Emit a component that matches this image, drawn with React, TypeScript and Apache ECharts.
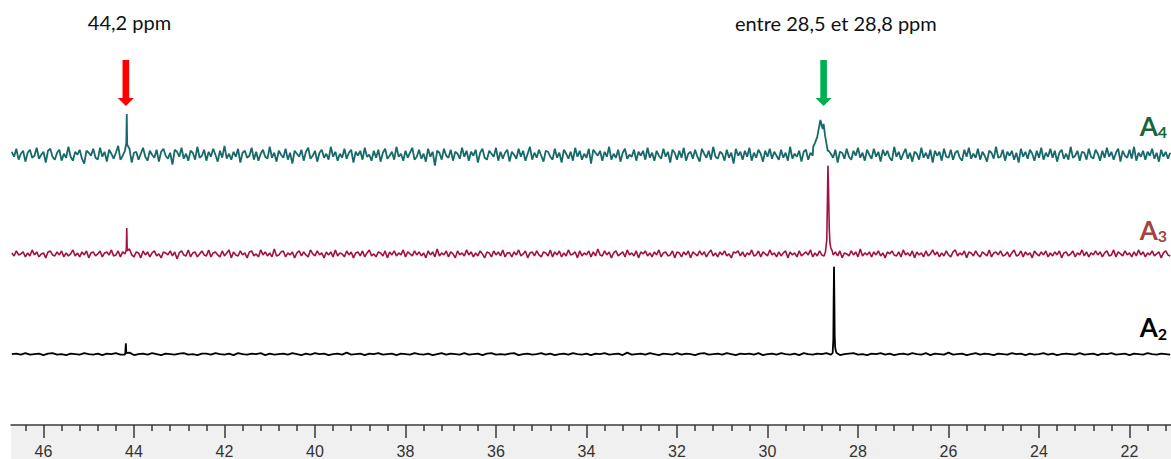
import React, { useEffect, useRef } from 'react';
import * as echarts from 'echarts';

// ---- axis ----
const AXIS_MIN = 21.083;
const AXIS_MAX = 46.718;
const MAJOR_TICKS = [46, 44, 42, 40, 38, 36, 34, 32, 30, 28, 26, 24, 22];
const MINOR_STEP = 0.4;

// ---- spectra sampling (ppm) ----
const PPM_START = 46.7;
const STEP_A4 = 0.05;
const STEP_A3 = 0.05;
const STEP_A2 = 0.1;

// baseline offsets (arbitrary intensity units)
const OFFSET_A4 = 272.5;
const OFFSET_A3 = 172.5;
const OFFSET_A2 = 71.5;

// noise read from the baselines (relative to each offset)
const A4_NOISE = [
  3, -2, 6, -5, 1, 4, -7, 2, 5, -3, -1, 7, -4, 0, 3, -8, 4, 6, -2, -5,
  2, 5, -6, 1, -3, 8, -2, -6, 3, 0, 5, -4, -9, 4, 2, -1, 6, -3, -5, 7,
  -2, 3, -7, 5, 1, -4, 2, 9, -5, -1, 4, -3, 6, -8, 2, 3, -5, 1, 7, -2,
  -6, 4, 0, -3, 5, -7, 3, 6, -1, -4, 2, -10, 5, 3, -2, 7, -4, 1, -6, 4,
  2, -5, 8, -3, -1, 5, -6, 3, -2, 6, 0, -7, 4, -3, 9, -4, 1, -5, 3, -2,
  6, -8, 2, 4, -3, -1, 7, -5, 3, -6, 1, 5, -2, -4, 8, -3, 2, -7, 4, 0,
  -3, 6, -5, 2, -9, 4, 1, -2, 5, -6, 3, 7, -4, -1, 4, -7, 2, 5, -3, 1,
  -5, 8, -2, 3, -6, 1, -3, 6, -4, 2, 5, -8, 3, -1, 4, -5, 7, -2, 0, -6,
  4, -3, 5, -7, 2, 6, -4, -1, 3, -5, 8, -2, 1, -6, 4, -3, 2, 7, -5, -2,
  5, -4, 1, -7, 6, -2, 3, -11, 4, 2, -5, 6, -1, -3, 5, -6, 3, 1, -4, 7,
  -2, 4, -6, 3, -1, 5, -8, 2, 6, -3, -5, 4, 1, -2, 7, -6, 3, -4, 2, 5,
  -7, 3, 0, -4, 6, -2, 4, -6, 1, 8, -5, 2, -3, 5, -1, -7, 4, 3, -2, -5,
  6, -3, 2, -8, 5, 1, -4, 3, -6, 7, -2, 4, -5, 1, -3, 6, -9, 5, 2, -1,
  4, -6, 3, -2, 8, -5, 1, -3, 5, -7, 2, 6, -4, 0, -2, 5, -6, 3, -1, 4,
  -5, 7, -3, 2, -6, 4, -1, -4, 6, -2, 3, -8, 5, 2, -5, 4, -3, 7, -6, 1,
  3, -4, 5, -2, -7, 6, 1, -3, 4, -5, 8, -2, -4, 3, 1, -6, 5, -3, 2, -9,
  6, -1, 3, -5, 4, -2, 7, -6, 2, -3, 5, 1, -7, 4, -2, 6, -4, 3, -1, -5,
  5, -3, 2, -6, 8, -4, 1, -2, 4, -7, 3, 5, -5, 2, -1, 6, -3, -4, 7, -2,
  -6, 4, 1, -3, 5, -8, 3, 2, -4, 6, -2, -5, 4, -1, 7, -3, 2, -6, 5, 0,
  -4, 6, -2, 3, -7, 5, -1, 4, -3, -6, 8, -2, 3, -5, 1, 6, -4, 2, -7, 3,
  1, -5, 7, -3, 2, -4, 5, -8, 4, -1, 3, -6, 6, -2, -3, 5, -5, 2, 4, -3,
  -6, 5, -2, 7, -4, 1, -3, 6, -5, 3, -1, -7, 4, 2, -4, 8, -3, -2, 5, -6,
  3, -1, 4, -5, 2, -8, 6, -2, 3, -4, 5, 1, -6, 4, -3, 7, -5, 2, -2, 6,
  -3, 4, -7, 2, 5, -4, 1, -5, 8, -3, -1, 4, -6, 3, 2, -5, 6, -2, -4, 5,
  1, -6, 4, -3, 7, -2, 3, -5, 2, 6, -7, 4, -1, -3, 5, -4, 8, -6, 2, -2,
  4, -5, 3, -1, 6, -4, 2, -7, 5, -2, 3, -4, 2,
];
const A3_NOISE = [
  1, -2, 3, -1, 0, 2, -3, 1, -2, 4, -1, 2, -3, 0, 1, -4, 2, 3, -1, -2,
  2, -1, 3, -3, 1, -2, 0, 4, -2, 1, -3, 2, -1, 3, -4, 1, 2, -2, 0, 3,
  -3, 1, 2, -1, 4, -2, -1, 3, -3, 2, 0, -2, 5, -1, -3, 2, 1, -4, 3, -1,
  2, -3, 1, 3, -2, 0, -4, 2, 1, -1, 3, -2, 2, -5, 1, 3, -1, -2, 4, -3,
  1, 2, -3, 0, 3, -1, -2, 4, -3, 1, 2, -1, -3, 3, -2, 1, 4, -4, 2, -1,
  -2, 3, -1, 1, -4, 2, 3, -2, 0, -3, 4, -1, 2, -2, 1, -3, 5, -2, -1, 2,
  3, -3, 1, -1, 2, -4, 1, 3, -2, 2, -1, -3, 4, 0, -2, 3, -1, 1, -4, 2,
  -1, 2, -3, 4, -2, 1, 0, -3, 3, -1, 2, -4, 1, 2, -2, 3, -3, 1, 4, -2,
  0, -3, 2, 1, -2, 3, -4, 2, -1, 3, -2, 1, -1, 4, -3, 2, 0, -2, 3, -1,
  2, -2, 1, -4, 3, -1, 2, -3, 5, -2, 1, -1, 3, -3, 2, 0, -4, 3, -1, 1,
  -2, 4, -1, 2, -3, 1, -2, 3, 0, -4, 2, 1, -3, 3, -1, 2, -2, 4, -3, 1,
  1, -3, 2, -1, 4, -2, 0, 3, -4, 1, 2, -2, 3, -1, -3, 2, 1, -2, 4, -3,
  2, -1, 3, -3, 1, -2, 4, -1, 0, 2, -4, 3, -2, 1, -1, 3, -3, 2, -2, 5,
  -1, -2, 3, -1, 2, -4, 1, 3, -2, 0, 2, -3, 4, -1, 1, -2, 3, -4, 2, 0,
  3, -2, 1, -3, 2, -1, 4, -3, 1, 2, -2, -1, 3, -4, 2, 1, -3, 2, -1, 3,
  -4, 2, 0, -2, 3, -1, 2, -3, 1, 4, -2, 1, -3, 2, -1, 3, -2, 0, -4, 2,
  1, 3, -2, 2, -3, 1, -1, 4, -2, -1, 3, -3, 2, 0, -2, 4, -1, 1, -3, 2,
  -2, 1, 3, -4, 2, -1, 1, -3, 3, -2, 0, 2, -1, 4, -3, 1, -2, 3, -1, -2,
  4, -3, 1, -1, 2, -2, 3, -4, 1, 0, -2, 3, -1, 2, -3, 5, -2, 1, -1, 2,
  -3, 2, -1, 3, -2, 1, -4, 2, 0, 3, -1, -2, 2, -3, 4, -1, 1, -2, 3, -4,
  2, -1, 1, -3, 3, -2, 0, 4, -1, 2, -3, 1, -2, 3, -1, -3, 2, 4, -2, 1,
  -1, 3, -4, 2, 1, -2, 3, -1, -3, 2, 0, -2, 4, -3, 1, 2, -1, 3, -2, -1,
  2, -3, 1, 4, -2, -1, 3, -3, 2, -1, 1, -4, 3, 0, -2, 2, -1, 3, -3, 1,
  -2, 2, -1, 3, -4, 1, 2, -2, 0, 3, -3, 1, -1, 4, -2, 2, -3, 1, -1, 3,
  -1, 2, -3, 1, 3, -2, -1, 4, -3, 2, 0, -2, 3, -1, 1, -3, 2, -2, 4, -1,
  2, -3, 1, -1, 3, -2, 0, 2, -4, 1, 3, -1, -2,
];
const A2_NOISE = [
  0, 0.5, -0.5, 1, -0.5, 0, 0.5, -1, 0.5, 1, -0.5, 0, -1, 0.5, 0, -0.5, 1, 0, -0.5, 0.5,
  -1, 0.5, 0, 1, -0.5, -0.5, 1.5, -1, 0, 0.5, -0.5, 1, 0, -1, 0.5, 0, -0.5, 0.5, 1, -0.5,
  0, -1, 0.5, 0.5, -0.5, 1, 0, -0.5, 0.5, -1, 1, 0, -0.5, 0.5, 0, 1, -1, 0.5, -0.5, 0,
  0.5, -0.5, 1, 0, -1, 0.5, -0.5, 1, 0, 0.5, -1, 0, 0.5, -0.5, 1.5, -0.5, 0, 0.5, -1, 0.5,
  0, 1, -0.5, 0, 0.5, -1, 0.5, 0, -0.5, 1, 0, -0.5, 0.5, -1, 0, 1, -0.5, 0.5, 0, -0.5,
  1, -0.5, 0, 0.5, -1, 0.5, 1, -0.5, 0, -0.5, 0.5, 1, -1, 0, 0.5, -0.5, 0, 1, -0.5, 0.5,
  -1, 0, 0.5, -0.5, 1, 0, -0.5, 0.5, -1, 0.5, 0, 1, -0.5, 0, 0.5, -1, 1.5, -0.5, 0, 0.5,
  -0.5, 1, 0, -1, 0.5, 0, -0.5, 1, -0.5, 0.5, 0, -1, 0.5, 1, -0.5, 0, 0.5, -0.5, 1, 0,
  -1, 0.5, 0, 0.5, -0.5, 1, -1, 0, 0.5, -0.5, 1, 0, -0.5, 0.5, -1, 1, 0, -0.5, 0.5, 0,
  1, -0.5, 0.5, -1, 0, 0.5, 1, -0.5, 0, -1, 0.5, 0, 1, -0.5, 0.5, -1, 0, 0.5, -0.5, 1,
  0, -0.5, 1, -1, 0.5, 0, -0.5, 1.5, -0.5, 0, 0.5, -1, 0, 1, -0.5, 0.5, 0, -1, 0.5, 0,
  -0.5, 1, 0, 0.5, -1, 0.5, -0.5, 0, 1, -0.5, 0.5, -1, 0, 0.5, 0, -0.5, 1, -0.5, 0, 0.5,
  -1, 0.5, 0, 1, -0.5, 0, 0.5, -1, 0.5, 0, -0.5, 1, 0, -0.5, 0.5, 0, -0.5,
];

// peaks: groups of [ppm, intensity above baseline]
const A4_PEAKS = [
  [[44.17, 12], [44.16, 41], [44.15, 10]],
  [[28.99, 8], [28.95, 12], [28.9, 18], [28.86, 28], [28.83, 35], [28.8, 29], [28.78, 26], [28.76, 31], [28.73, 20], [28.7, 12], [28.67, 4]],
];
const A3_PEAKS = [
  [[44.17, 4], [44.16, 26], [44.15, 3]],
  [[28.72, 2], [28.69, 14], [28.675, 55], [28.665, 89], [28.65, 62], [28.635, 25], [28.62, 11], [28.6, 6], [28.57, 3]],
];
const A2_PEAKS = [
  [[44.19, 2], [44.18, 11], [44.17, 1]],
  [[28.56, 1], [28.545, 15], [28.538, 55], [28.53, 88], [28.522, 55], [28.515, 18], [28.505, 7], [28.49, 3], [28.47, 1]],
];

// annotations
const ARROW_PPM = [44.18, 28.76];
const ARROW_COLORS = ['#ff0000', '#00b050'];
const NOTE_TEXTS = ['44,2 ppm', 'entre 28,5 et 28,8 ppm'];
const NOTE_PPM = [44.1, 28.49];
const TRACE_NAMES = ['A4', 'A3', 'A2'];
const TRACE_SUBS = ['4', '3', '2'];
const TRACE_LINE_COLORS = ['#17696b', '#a3123f', '#000000'];
const TRACE_LABEL_COLORS = ['#17673d', '#a5433d', '#000000'];
const LABEL_RISE = [29, 24.5, 27];

function buildTrace(noise: number[], step: number, peaks: number[][][], offset: number) {
  const pts: number[][] = [];
  const spans = peaks.map((g) => {
    const xs = g.map((p) => p[0]);
    return [Math.min(...xs), Math.max(...xs)];
  });
  noise.forEach((v, i) => {
    const x = +(PPM_START - i * step).toFixed(3);
    const inside = spans.some(([lo, hi]) => x >= lo && x <= hi);
    if (!inside) pts.push([x, offset + v]);
  });
  peaks.forEach((g) => g.forEach(([x, v]) => pts.push([x, offset + v])));
  pts.sort((a, b) => b[0] - a[0]);
  return pts;
}

export default function App() {
  const ref = useRef<HTMLDivElement>(null);
  useEffect(() => {
    document.body.style.margin = '0';
    const chart = echarts.init(ref.current!, undefined, { renderer: 'svg' });
    const minor: number[] = [];
    for (let v = 46.8; v > AXIS_MIN; v -= MINOR_STEP) {
      const r = +v.toFixed(2);
      if (r <= AXIS_MAX && !MAJOR_TICKS.includes(r)) minor.push(r);
    }
    const traces = [
      buildTrace(A4_NOISE, STEP_A4, A4_PEAKS, OFFSET_A4),
      buildTrace(A3_NOISE, STEP_A3, A3_PEAKS, OFFSET_A3),
      buildTrace(A2_NOISE, STEP_A2, A2_PEAKS, OFFSET_A2),
    ];
    const offsets = [OFFSET_A4, OFFSET_A3, OFFSET_A2];
    const widths = [1.8, 1.6, 1.8];
    const axisColor = '#3a3a3a';
    chart.setOption({
      animation: false,
      backgroundColor: '#ffffff',
      grid: { left: 11, right: 0, top: 0, bottom: 30.5 },
      xAxis: [
        {
          type: 'value', min: AXIS_MIN, max: AXIS_MAX, inverse: true, position: 'bottom',
          axisLine: { show: true, lineStyle: { color: axisColor, width: 1.5 } },
          axisTick: { show: true, customValues: MAJOR_TICKS, length: 13, lineStyle: { color: axisColor, width: 1.5 } },
          axisLabel: { customValues: MAJOR_TICKS, fontSize: 16, color: '#333', margin: 18, fontFamily: 'Liberation Sans' },
          splitLine: { show: false },
        },
        {
          type: 'value', min: AXIS_MIN, max: AXIS_MAX, inverse: true, position: 'bottom',
          axisLine: { show: false },
          axisTick: { show: true, customValues: minor, length: 6, lineStyle: { color: axisColor, width: 1.5 } },
          axisLabel: { show: false },
          splitLine: { show: false },
        },
      ],
      yAxis: { type: 'value', min: 0, max: 428.5, show: false, splitLine: { show: false } },
      series: traces.map((d, i) => ({
        name: TRACE_NAMES[i],
        type: 'line',
        data: d,
        showSymbol: false,
        symbol: 'none',
        lineStyle: { color: TRACE_LINE_COLORS[i], width: widths[i] },
        z: 3 - i,
      })),
    });

    const px = (ppm: number) => chart.convertToPixel({ xAxisIndex: 0 }, ppm) as number;
    const py = (v: number) => chart.convertToPixel({ yAxisIndex: 0 }, v) as number;
    const left = px(AXIS_MAX);
    const right = px(AXIS_MIN);
    const axisY = py(0);
    const graphics: any[] = [
      {
        type: 'rect', z: -10, silent: true,
        shape: { x: left, y: axisY + 1, width: right - left, height: 459 - axisY },
        style: { fill: '#f0f0f0' },
      },
    ];
    ARROW_PPM.forEach((ppm, i) => {
      const x = px(ppm);
      graphics.push({
        type: 'polygon', silent: true,
        shape: {
          points: [
            [x - 3.3, 60], [x + 3.3, 60], [x + 3.3, 98], [x + 8, 98], [x, 106], [x - 8, 98], [x - 3.3, 98],
          ],
        },
        style: { fill: ARROW_COLORS[i] },
      });
    });
    NOTE_TEXTS.forEach((t, i) => {
      graphics.push({
        type: 'text', silent: true, x: px(NOTE_PPM[i]), y: i === 0 ? 22 : 23,
        style: { text: t, fontSize: 20, fontFamily: 'Lato', fill: '#111', align: 'center', verticalAlign: 'middle' },
      });
    });
    offsets.forEach((o, i) => {
      graphics.push({
        type: 'text', silent: true, x: 1167, y: py(o + LABEL_RISE[i]),
        style: {
          text: `{a|A}{s|${TRACE_SUBS[i]}}`,
          align: 'right', verticalAlign: 'middle',
          rich: {
            a: { fontSize: 26, fontWeight: 'bold', fontFamily: 'Lato', fill: TRACE_LABEL_COLORS[i], lineHeight: 28 },
            s: { fontSize: 16, fontWeight: 'bold', fontFamily: 'Lato', fill: TRACE_LABEL_COLORS[i], lineHeight: 12, verticalAlign: 'bottom' },
          },
        },
      });
    });
    chart.setOption({ graphic: graphics });
    return () => chart.dispose();
  }, []);
  return <div ref={ref} style={{ position: 'absolute', left: 0, top: 0, width: 1171, height: 459 }} />;
}
